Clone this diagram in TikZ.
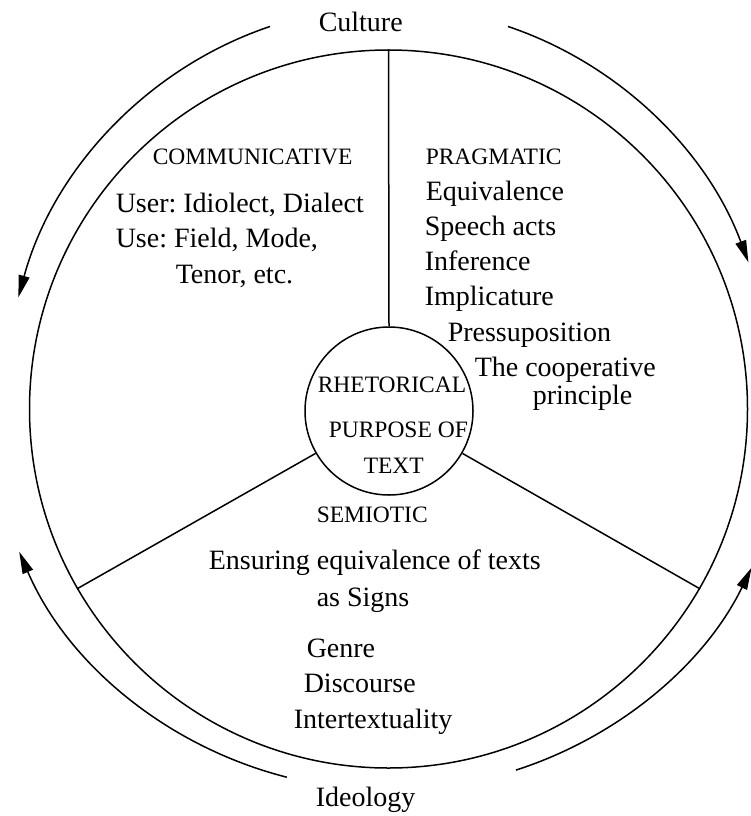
\documentclass[tikz,border=0pt]{standalone}
\usepackage{fontspec}
\setmainfont{Liberation Serif}
\usetikzlibrary{arrows.meta}
\frenchspacing
\begin{document}
\begin{tikzpicture}[x=1pt,y=-1pt,
  line width=1.5pt,
  body/.style={anchor=base west, inner sep=0pt, font=\fontsize{28}{34}\selectfont},
  head/.style={anchor=base west, inner sep=0pt, font=\fontsize{23.5}{28}\selectfont},
  flow/.style={-{Triangle[length=22pt,width=11pt]}},
  ring/.style={circle, draw, inner sep=0pt},
]
\useasboundingbox (0,0) rectangle (750,816);

% outer wheel and the hub
\node[ring, minimum size=718pt] (rim) at (388.5,409) {};
\node[ring, minimum size=168pt] (hub) at (389,411) {};

% three spokes dividing the wheel
\draw (hub.90)  -- (rim.90);
\draw (hub.210) -- (rim.210);
\draw (hub.330) -- (rim.330);

% circulating arrows: culture above, ideology below
\coordinate (oc) at (389,405);
\path (oc) ++(-108:385 and 398) coordinate (cultL);
\path (oc) ++(-72:385 and 398)  coordinate (cultR);
\path (oc) ++(104.8:400 and 385) coordinate (ideoL);
\path (oc) ++(71.5:400 and 385)  coordinate (ideoR);
\draw[flow] (cultL) arc[start angle=-108, end angle=-164.3, x radius=385, y radius=398];
\draw[flow] (cultR) arc[start angle=-72, end angle=-21, x radius=385, y radius=398];
\draw[flow] (ideoL) arc[start angle=104.8, end angle=157.6, x radius=400, y radius=385];
\draw[flow] (ideoR) arc[start angle=71.5, end angle=25, x radius=400, y radius=385];

\node[body] (culture)  at (318,32)  {Culture};
\node[body] (ideology) at (315,806) {Ideology};

% communicative sector
\node[head] (comm)  at (152,164) {COMMUNICATIVE};
\node[body] (user)  at (115,212) {User: Idiolect, Dialect};
\node[body] (use)   at (115,247) {Use: Field, Mode,};
\node[body] (tenor) at (175,283) {Tenor, etc.};

% pragmatic sector
\node[head] (prag)   at (425,164) {PRAGMATIC};
\node[body] (equiv)  at (425,200) {Equivalence};
\node[body] (speech) at (424,235) {Speech acts};
\node[body] (infer)  at (424,270) {Inference};
\node[body] (impl)   at (424,305) {Implicature};
\node[body] (presup) at (447,341) {Pressuposition};
\node[body] (coop)   at (474,376) {The cooperative};
\node[body] (princ)  at (532,404) {principle};

% hub label
\node[head] (rhetA) at (317,392) {RHETORICAL};
\node[head] (rhetB) at (328,437) {PURPOSE OF};
\node[head] (rhetC) at (363,473) {TEXT};

% semiotic sector
\node[head] (semi)   at (316,522) {SEMIOTIC};
\node[body] (ensure) at (208,569) {Ensuring equivalence of texts};
\node[body] (signs)  at (316,606) {as Signs};
\node[body] (genre)  at (306,657) {Genre};
\node[body] (disc)   at (303,692) {Discourse};
\node[body] (inter)  at (293,728) {Intertextuality};
\end{tikzpicture}
\end{document}
